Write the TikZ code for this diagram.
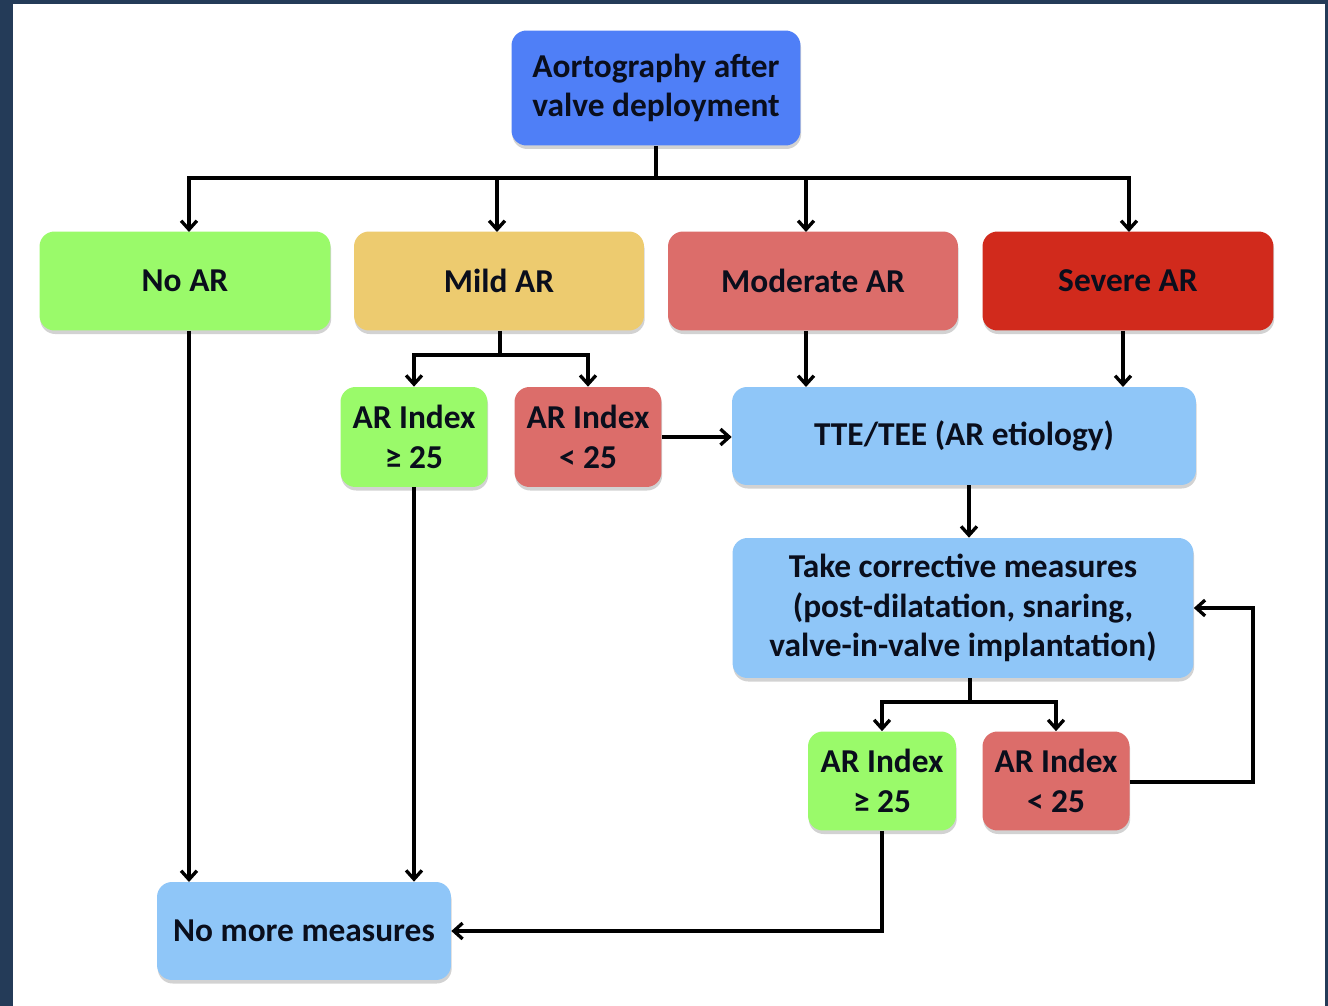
\documentclass[tikz,border=0pt]{standalone}
\usepackage{fontspec}
\setmainfont{Carlito}
\usepackage{tikz}
\usetikzlibrary{arrows,arrows.meta}
\usetikzlibrary{shapes}
\usetikzlibrary{shadows}
\usetikzlibrary{positioning}

\definecolor{navy}{RGB}{36,59,88}
\definecolor{topblue}{RGB}{79,127,247}
\definecolor{noar}{RGB}{154,250,106}
\definecolor{mildar}{RGB}{237,203,111}
\definecolor{modar}{RGB}{220,109,106}
\definecolor{sevar}{RGB}{209,42,28}
\definecolor{lightblue}{RGB}{143,198,248}
\definecolor{ink}{RGB}{10,14,28}

\begin{document}
\begin{tikzpicture}[x=0.02cm,y=-0.02cm,
        box/.style={draw=none,rounded corners=0.3cm,align=center,text=ink,
            inner sep=0pt,font=\fontsize{19pt}{22.5pt}\selectfont\bfseries,
            drop shadow={shadow xshift=0.4pt,shadow yshift=-2pt,opacity=0.35}},
        link/.style={draw,line width=1.9pt,-{Straight Barb[length=5pt,width=9pt]}},
        wire/.style={draw,line width=1.9pt},
  ]

    % frame
    \fill[navy] (0,0) rectangle (1328,1006);
    \fill[white] (13,4) rectangle (1325,1006);
    \useasboundingbox (0,0) rectangle (1328,1006);

    % boxes
    \node[box,fill=topblue,minimum width=5.78cm,minimum height=2.3cm] (aorto) at (656,88) {Aortography after\\valve deployment};
    \node[box,fill=noar,minimum width=5.82cm,minimum height=1.98cm] (no) at (185,281) {No AR};
    \node[box,fill=mildar,minimum width=5.8cm,minimum height=1.98cm] (mild) at (499,281) {Mild AR};
    \node[box,fill=modar,minimum width=5.8cm,minimum height=1.98cm] (mod) at (813,281) {Moderate AR};
    \node[box,fill=sevar,minimum width=5.82cm,minimum height=1.98cm] (sev) at (1128,281) {Severe AR};

    \node[box,fill=noar,minimum width=2.94cm,minimum height=2cm] (hiA) at (414,437) {AR Index\\≥ 25};
    \node[box,fill=modar,minimum width=2.94cm,minimum height=2cm] (loA) at (588,437) {AR Index\\< 25};
    \node[box,fill=lightblue,minimum width=9.28cm,minimum height=1.96cm] (tte) at (964,436) {TTE/TEE (AR etiology)};
    \node[box,fill=lightblue,minimum width=9.22cm,minimum height=2.8cm] (corr) at (963,608) {Take corrective measures\\(post-dilatation, snaring,\\valve-in-valve implantation)};

    \node[box,fill=noar,minimum width=2.96cm,minimum height=1.98cm] (hiB) at (882,781) {AR Index\\≥ 25};
    \node[box,fill=modar,minimum width=2.94cm,minimum height=1.98cm] (loB) at (1056,781) {AR Index\\< 25};
    \node[box,fill=lightblue,minimum width=5.88cm,minimum height=1.96cm] (stop) at (304,931) {No more measures};

    % junctions
    \coordinate (jtop) at (656,178);
    \coordinate (jmild) at (500,355);
    \coordinate (jcorr) at (970,702);
    \coordinate (jloop) at (1253,782);

    % connectors
    \draw[wire] (aorto.south) -- (jtop);
    \draw[link] (jtop) -| (189,232);
    \draw[link] (jtop) -| (497,232);
    \draw[link] (jtop) -| (806,232);
    \draw[link] (jtop) -| (1129,232);

    \draw[link] (189,331) -- (189,882);
    \draw[wire] (mild.south -| jmild) -- (jmild);
    \draw[link] (jmild) -| (hiA.north);
    \draw[link] (jmild) -| (loA.north);
    \draw[link] (hiA.south) -- (hiA.south |- stop.north);
    \draw[link] (loA.east) -- (loA.east -| tte.west);

    \draw[link] (806,331) -- (806,387);
    \draw[link] (1123,331) -- (1123,387);
    \draw[link] (tte.south -| 969,0) -- (corr.north -| 969,0);

    \draw[wire] (corr.south -| jcorr) -- (jcorr);
    \draw[link] (jcorr) -| (hiB.north);
    \draw[link] (jcorr) -| (loB.north);
    \draw[link] (loB.east |- jloop) -- (jloop) |- (corr.east);
    \draw[link] (hiB.south) |- (stop.east);
\end{tikzpicture}
\end{document}
